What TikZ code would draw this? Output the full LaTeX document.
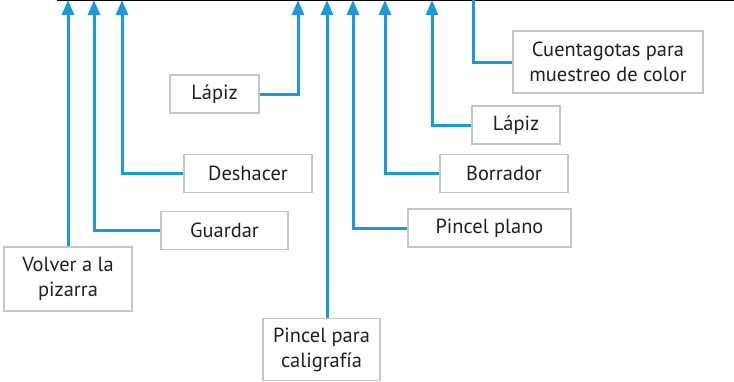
\documentclass[tikz,border=0pt]{standalone}
\usepackage{fontspec}
\setmainfont{PT Sans}
\usepackage{tikz}
\usetikzlibrary{positioning, arrows.meta, calc}
\definecolor{toolblue}{HTML}{1B9AD7}
\definecolor{boxgray}{HTML}{C6C6C6}
\definecolor{txtdark}{HTML}{231F20}

\begin{document}
\begin{tikzpicture}[
  x=1bp, y=-1bp,
  font=\fontsize{20.5}{25}\selectfont,
  lb/.style={rectangle, draw=boxgray, fill=white, line width=1.2bp, text=txtdark, align=center, inner sep=0pt, minimum height=38bp},
  ar/.style={-{Triangle[width=12bp, length=15bp]}, line width=3bp, draw=toolblue},
  ln/.style={line width=3bp, draw=toolblue},
  bar/.style={line width=1.6bp, draw=black}
]
\useasboundingbox (0,0) rectangle (734,381);

\coordinate (barL) at (57,0.6);
\coordinate (barR) at (740,0.6);
\draw[bar] (barL) -- (barR);

\coordinate (t1) at (68,0);
\coordinate (t2) at (94,0);
\coordinate (t3) at (122,0);
\coordinate (t4) at (298,0);
\coordinate (t5) at (327,0);
\coordinate (t6) at (353,0);
\coordinate (t7) at (385,0);
\coordinate (t8) at (432,0);
\coordinate (t9) at (473,0);

\node[lb, minimum width=89bp] (lapizA) at (214.5,94) {Lápiz};
\node[lb, minimum width=190bp, minimum height=62bp] (cuenta) at (608,62) {Cuentagotas para\\muestreo de color};
\node[lb, minimum width=88bp] (lapizB) at (516,125) {Lápiz};
\node[lb, minimum width=128bp] (deshacer) at (248,173.5) {Deshacer};
\node[lb, minimum width=128bp] (borrador) at (504,173.5) {Borrador};
\node[lb, minimum width=127bp] (guardar) at (224.5,230.5) {Guardar};
\node[lb, minimum width=163bp] (pincelplano) at (489.5,228) {Pincel plano};
\node[lb, minimum width=128bp, minimum height=64bp] (volver) at (68,279) {Volver a la\\pizarra};
\node[lb, minimum width=117bp, minimum height=62bp] (caligrafia) at (321.5,349.5) {Pincel para\\caligrafía};

\draw[ar] (volver.north) -- (t1);
\draw[ar] (guardar.west) -| (t2);
\draw[ar] (deshacer.west) -| (t3);
\draw[ar] (lapizA.east) -| (t4);
\draw[ar] (t5 |- caligrafia.north) -- (t5);
\draw[ar] (pincelplano.west) -| (t6);
\draw[ar] (borrador.west) -| (t7);
\draw[ar] (lapizB.west) -| (t8);
\draw[ln] (cuenta.west) -| (t9);

\end{tikzpicture}
\end{document}
